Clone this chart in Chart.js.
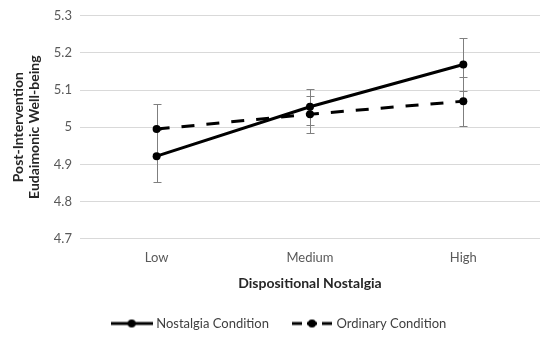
<!DOCTYPE html>
<html>
<head>
<meta charset="utf-8">
<script src="https://cdn.jsdelivr.net/npm/chart.js@4.4.1/dist/chart.umd.min.js"></script>
<style>
  html, body { margin: 0; padding: 0; background: #fff; }
  #wrap { width: 544px; height: 340px; }
</style>
</head>
<body>
<div id="wrap"><canvas id="chart"></canvas></div>
<script>
/* interaction plot – well-being by dispositional nostalgia */

const levels = ["Low", "Medium", "High"];
const nostalgiaMeans = [4.922, 5.055, 5.169];
const nostalgiaErr = [0.07, 0.048, 0.071];
const ordinaryMeans = [4.995, 5.035, 5.07];
const ordinaryErr = [0.068, 0.05, 0.066];
const yTicks = [4.7, 4.8, 4.9, 5, 5.1, 5.2, 5.3];

const FONT = "Lato, 'Open Sans', sans-serif";

// little line+dot icons for the legend
function legendIcon(width, dash) {
  const c = document.createElement("canvas");
  c.width = width;
  c.height = 10;
  const g = c.getContext("2d");
  g.strokeStyle = "#000";
  g.lineWidth = 3;
  g.setLineDash(dash);
  g.beginPath();
  g.moveTo(0, 5);
  g.lineTo(width, 5);
  g.stroke();
  g.fillStyle = "#000";
  g.beginPath();
  g.arc(width / 2, 5, 4, 0, Math.PI * 2);
  g.fill();
  return c;
}
const icons = [legendIcon(42, []), legendIcon(40, [10, 5])];

const errorBars = {
  id: "errorBars",
  beforeDatasetsDraw(chart) {
    const { ctx, scales } = chart;
    const errs = [nostalgiaErr, ordinaryErr];
    ctx.save();
    ctx.strokeStyle = "#7f7f7f";
    ctx.lineWidth = 1;
    chart.data.datasets.forEach((ds, d) => {
      ds.data.forEach((v, i) => {
        const x = Math.round(scales.x.getPixelForValue(i)) + 0.5;
        const yTop = Math.round(scales.y.getPixelForValue(v + errs[d][i])) + 0.5;
        const yBot = Math.round(scales.y.getPixelForValue(v - errs[d][i])) + 0.5;
        ctx.beginPath();
        ctx.moveTo(x, yTop);
        ctx.lineTo(x, yBot);
        ctx.moveTo(x - 4, yTop);
        ctx.lineTo(x + 4, yTop);
        ctx.moveTo(x - 4, yBot);
        ctx.lineTo(x + 4, yBot);
        ctx.stroke();
      });
    });
    ctx.restore();
  },
};

new Chart(document.getElementById("chart"), {
  type: "line",
  data: {
    labels: levels,
    datasets: [
      {
        label: "Nostalgia Condition",
        data: nostalgiaMeans,
        borderColor: "#000",
        backgroundColor: "#000",
        borderWidth: 3,
        pointRadius: 4,
        pointBorderWidth: 0,
        pointStyle: "circle",
        tension: 0,
      },
      {
        label: "Ordinary Condition",
        data: ordinaryMeans,
        borderColor: "#000",
        backgroundColor: "#000",
        borderWidth: 3,
        borderDash: [13, 12],
        pointRadius: 4,
        pointBorderWidth: 0,
        pointStyle: "circle",
        tension: 0,
      },
    ],
  },
  options: {
    responsive: true,
    maintainAspectRatio: false,
    animation: false,
    devicePixelRatio: 1,
    layout: { padding: { top: 7, left: 11, right: -5, bottom: 0 } },
    scales: {
      x: {
        offset: true,
        grid: { display: false },
        border: { display: false },
        ticks: { color: "#595959", font: { family: FONT, size: 13 }, padding: 3 },
        title: {
          display: true,
          text: "Dispositional Nostalgia",
          color: "#262626",
          font: { family: FONT, size: 14, weight: "bold" },
          padding: { top: 7, bottom: 0 },
        },
      },
      y: {
        min: 4.7,
        max: 5.3,
        afterBuildTicks: (axis) => {
          axis.ticks = yTicks.map((v) => ({ value: v }));
        },
        grid: { color: "#d9d9d9", drawTicks: false },
        border: { display: false },
        ticks: {
          color: "#595959",
          font: { family: FONT, size: 13 },
          padding: 8,
          callback: (v) => String(Math.round(v * 10) / 10),
        },
        title: {
          display: true,
          text: ["Post-Intervention", "Eudaimonic Well-being"],
          color: "#262626",
          font: { family: FONT, size: 14, weight: "bold", lineHeight: 1.1 },
          padding: { top: 0, bottom: 4 },
        },
      },
    },
    plugins: {
      legend: {
        position: "bottom",
        labels: {
          usePointStyle: true,
          pointStyleWidth: 36,
          color: "#404040",
          font: { family: FONT, size: 13 },
          padding: 25,
          generateLabels: (chart) =>
            chart.data.datasets.map((ds, i) => ({
              text: ds.label,
              pointStyle: icons[i],
              datasetIndex: i,
              fontColor: "#404040",
              lineWidth: 0,
              hidden: false,
            })),
        },
      },
      tooltip: { enabled: false },
    },
  },
  plugins: [errorBars],
});
</script>
</body>
</html>
